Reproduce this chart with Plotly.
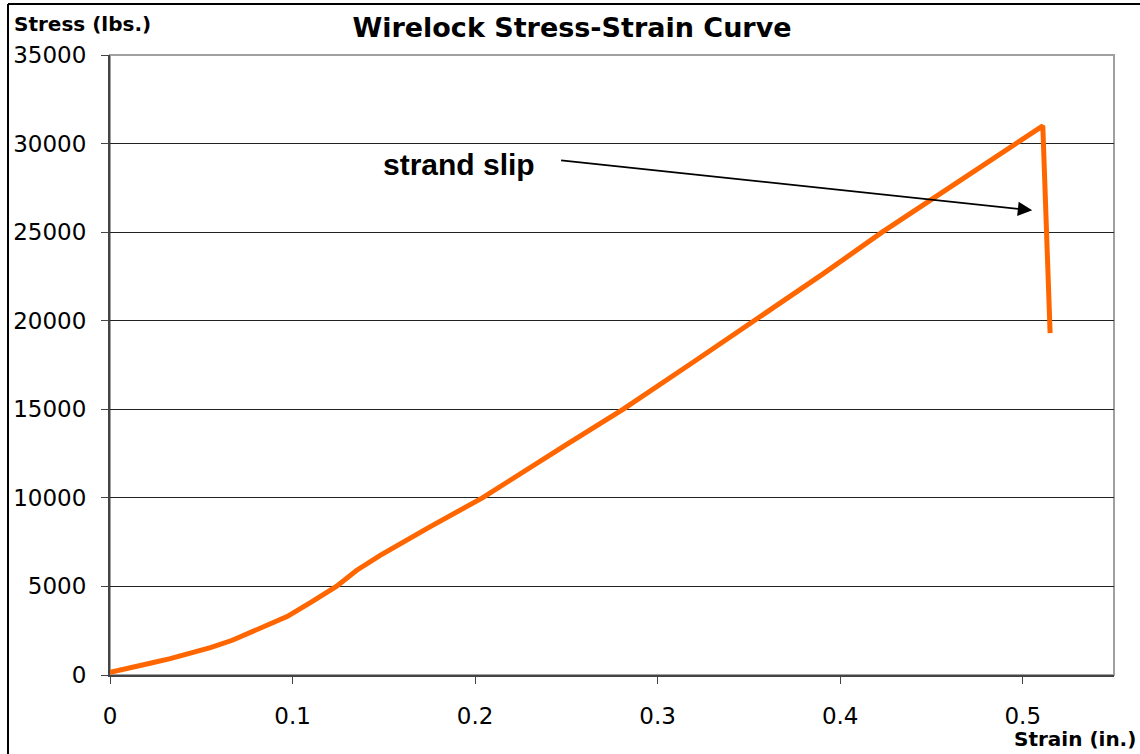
import plotly.graph_objects as go

strain = [0.0, 0.011, 0.022, 0.033, 0.044, 0.055, 0.067, 0.080, 0.097, 0.110, 0.124, 0.135, 0.148,
          0.175, 0.204, 0.250, 0.281, 0.320, 0.353, 0.390, 0.423, 0.460, 0.511, 0.515]
stress = [150, 380, 660, 920, 1220, 1550, 1960, 2550, 3300, 4100, 5000, 5900, 6750,
          8350, 10000, 13000, 15000, 17700, 20000, 22600, 25000, 27500, 31000, 19300]

x_ticks = [0, 0.1, 0.2, 0.3, 0.4, 0.5]
y_ticks = [0, 5000, 10000, 15000, 20000, 25000, 30000, 35000]

W, H = 1140, 754
L, R, T, B = 110, 26, 55, 79
pw, ph = W - L - R, H - T - B

def px(p):
    return (p - L) / pw

def py(p):
    return (H - B - p) / ph

fig = go.Figure()
fig.add_trace(go.Scatter(x=strain, y=stress, mode="lines",
                         line=dict(color="#FF6600", width=5),
                         showlegend=False, hoverinfo="skip"))

tickfont = dict(family="DejaVu Sans", size=23, color="#000000")
fig.update_layout(
    width=W, height=H,
    margin=dict(l=L, r=R, t=T, b=B),
    paper_bgcolor="white", plot_bgcolor="white",
    xaxis=dict(range=[0, 0.55], tickvals=x_ticks, ticktext=[str(v) for v in x_ticks],
               showgrid=False, zeroline=False, showline=True, linecolor="#444444", linewidth=2,
               ticks="outside", ticklen=7, tickcolor="#444444", tickwidth=1,
               tickfont=tickfont, ticklabelstandoff=12),
    yaxis=dict(range=[0, 35000], tickvals=y_ticks, ticktext=[str(v) for v in y_ticks],
               showgrid=True, gridcolor="#222222", gridwidth=1, zeroline=False,
               showline=True, linecolor="#444444", linewidth=2,
               ticks="outside", ticklen=7, tickcolor="#444444", tickwidth=1,
               tickfont=tickfont, ticklabelstandoff=10),
    title=dict(text="<b>Wirelock Stress-Strain Curve</b>", xref="container", yref="container",
               x=572 / W, y=1 - 28 / H, xanchor="center", yanchor="middle",
               font=dict(family="DejaVu Sans", size=27, color="#000000")),
)

# plot-area frame (top/right in gray)
fig.add_shape(type="rect", xref="paper", yref="paper", x0=0, y0=0, x1=1, y1=1,
              line=dict(color="#A0A0A0", width=2), layer="below")
# outer chart border (left and top edges visible)
fig.add_shape(type="line", xref="paper", yref="paper", x0=px(8), y0=py(4), x1=px(8), y1=py(H + 10),
              line=dict(color="#000000", width=2))
fig.add_shape(type="line", xref="paper", yref="paper", x0=px(8), y0=py(4), x1=px(W + 10), y1=py(4),
              line=dict(color="#000000", width=2))

fig.add_annotation(text="<b>Stress (lbs.)</b>", xref="paper", yref="paper",
                   x=px(12), y=py(24), xanchor="left", yanchor="middle", showarrow=False,
                   font=dict(family="DejaVu Sans", size=20, color="#000000"))
fig.add_annotation(text="<b>Strain (in.)</b>", xref="paper", yref="paper",
                   x=px(1138), y=py(739), xanchor="right", yanchor="middle", showarrow=False,
                   font=dict(family="DejaVu Sans", size=20, color="#000000"))

fig.add_annotation(text="<b>strand slip</b>", x=0.1483, y=28840, xref="x", yref="y",
                   xanchor="left", yanchor="middle", showarrow=False,
                   font=dict(family="Liberation Sans", size=30, color="#000000"))
fig.add_annotation(text="", x=0.5052, y=26230, ax=0.2463, ay=29060,
                   xref="x", yref="y", axref="x", ayref="y",
                   showarrow=True, arrowhead=2, arrowsize=1.6, arrowwidth=1.8,
                   arrowcolor="#000000", standoff=0)

fig.write_html("out.html")
